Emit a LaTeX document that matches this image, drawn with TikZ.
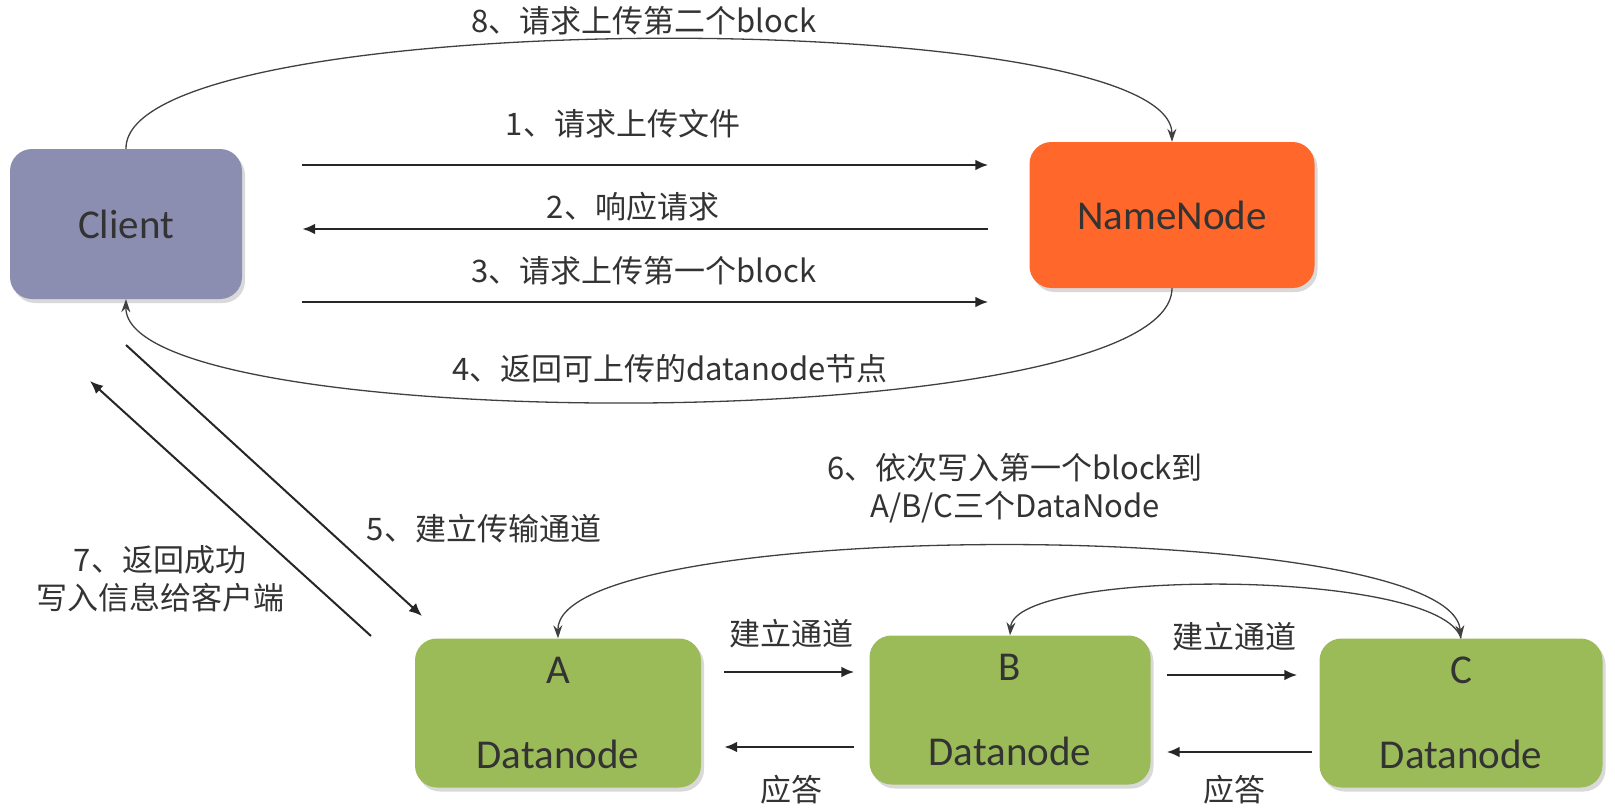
\documentclass[tikz,border=0pt]{standalone}
\usepackage{fontspec}
\setmainfont{Carlito}
\newfontfamily\cjk{Noto Sans CJK SC}
\usetikzlibrary{arrows.meta}
\usetikzlibrary{shadows}
\definecolor{clientcol}{HTML}{8B8EB1}
\definecolor{namecol}{HTML}{FF672B}
\definecolor{datacol}{HTML}{9BBB59}
\definecolor{inkcol}{HTML}{333333}

\begin{document}
\begin{tikzpicture}[x = 1pt, y = 1pt]
\tikzstyle{BoxStyle}=[shape = rectangle,
                      rounded corners = 22pt,
                      inner sep = 0pt,
                      text = inkcol, align = center,
                      font = \fontsize{41}{49}\selectfont,
                      drop shadow = {shadow xshift = 3pt, shadow yshift = -4pt, opacity = 0.3}]
\tikzstyle{FlowStyle}=[draw = black!85, line width = 2.7pt, -{Latex[length = 13pt, width = 11pt]}]
\tikzstyle{CurveStyle}=[draw = black!75, line width = 1.3pt, -{Stealth[length = 13pt, width = 9pt]}]
\tikzstyle{LabelStyle}=[text = inkcol, align = center, inner sep = 0pt,
                        font = \cjk\fontsize{31}{38}\selectfont]
\useasboundingbox (0,0) rectangle (1615,-808);
% boxes
\node[BoxStyle, fill = clientcol, minimum width = 232pt, minimum height = 150pt] (client) at (126,-224) {Client};
\node[BoxStyle, fill = namecol, minimum width = 285pt, minimum height = 146pt] (namenode) at (1172,-215) {NameNode};
\node[BoxStyle, fill = datacol, minimum width = 286pt, minimum height = 149pt] (dnA) at (558,-713) {A\\[36pt]Datanode};
\node[BoxStyle, fill = datacol, minimum width = 281pt, minimum height = 149pt] (dnB) at (1010,-710) {B\\[36pt]Datanode};
\node[BoxStyle, fill = datacol, minimum width = 283pt, minimum height = 149pt] (dnC) at (1461,-713) {C\\[36pt]Datanode};
% client <-> namenode
\draw[FlowStyle, shorten <= 60pt, shorten >= 41pt] (client.east |- 0,-165) -- (namenode.west |- 0,-165);
\draw[FlowStyle, shorten <= 41pt, shorten >= 60pt] (namenode.west |- 0,-229) -- (client.east |- 0,-229);
\draw[FlowStyle, shorten <= 60pt, shorten >= 41pt] (client.east |- 0,-302) -- (namenode.west |- 0,-302);
\draw[CurveStyle] (client.north) .. controls (124,-4) and (1171,-4) .. (namenode.north);
\draw[CurveStyle] (namenode.south) .. controls (1171,-438) and (124,-438) .. (client.south);
\node[LabelStyle] (lbl8) at (644,-21) {8、请求上传第二个block};
\node[LabelStyle] (lbl1) at (623,-124) {1、请求上传文件};
\node[LabelStyle] (lbl2) at (633,-207) {2、响应请求};
\node[LabelStyle] (lbl3) at (644,-271) {3、请求上传第一个block};
\node[LabelStyle] (lbl4) at (670,-369) {4、返回可上传的datanode节点};
% client <-> datanodes
\coordinate (p5s) at (126,-345);
\coordinate (p5e) at (422,-616);
\coordinate (p7s) at (371,-636);
\coordinate (p7e) at (90,-381);
\draw[FlowStyle, line width = 2pt] (p5s) -- (p5e);
\draw[FlowStyle, line width = 2pt] (p7s) -- (p7e);
\node[LabelStyle] (lbl5) at (484,-529) {5、建立传输通道};
\node[LabelStyle] (lbl7) at (160,-579) {7、返回成功\\写入信息给客户端};
% pipeline
\draw[FlowStyle, shorten <= 23pt, shorten >= 15pt] (dnA.east |- 0,-672) -- (dnB.west |- 0,-672);
\draw[FlowStyle, shorten <= 15pt, shorten >= 23pt] (dnB.west |- 0,-747) -- (dnA.east |- 0,-747);
\draw[FlowStyle, shorten <= 16pt, shorten >= 22pt] (dnB.east |- 0,-675) -- (dnC.west |- 0,-675);
\draw[FlowStyle, shorten <= 7pt, shorten >= 16pt] (dnC.west |- 0,-752) -- (dnB.east |- 0,-752);
\draw[CurveStyle, {Stealth[length = 13pt, width = 9pt]}-{Stealth[length = 13pt, width = 9pt]}] (dnC.north) .. controls (1450,-516) and (556,-516) .. (dnA.north);
\draw[CurveStyle] (dnC.north) .. controls (1440,-568) and (1015,-568) .. (dnB.north);
\node[LabelStyle] (lbl6) at (1015,-488) {6、依次写入第一个block到\\A/B/C三个DataNode};
\node[LabelStyle] (lblab) at (791,-634) {建立通道};
\node[LabelStyle] (lblba) at (791,-790) {应答};
\node[LabelStyle] (lblbc) at (1234,-637) {建立通道};
\node[LabelStyle] (lblcb) at (1234,-790) {应答};
\end{tikzpicture}
\end{document}
